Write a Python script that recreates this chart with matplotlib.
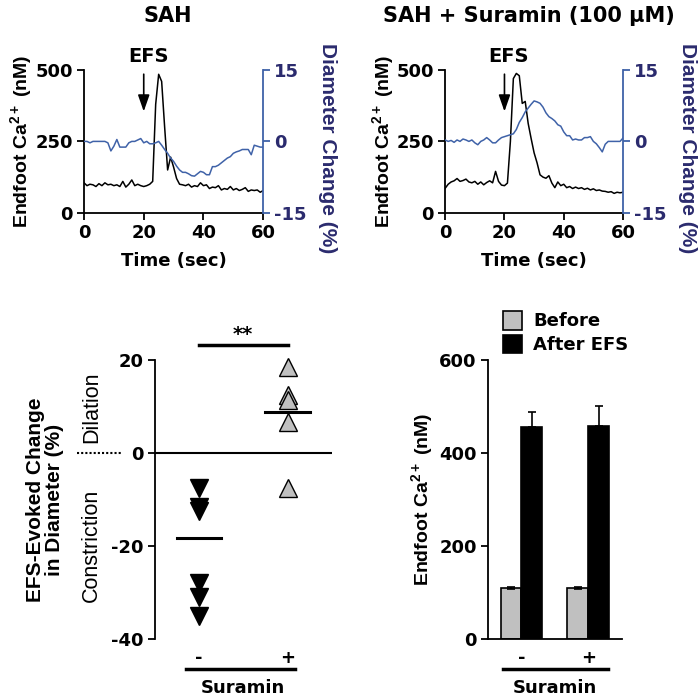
"""Endfoot Ca2+ / diameter traces and Suramin summary panels."""

import matplotlib

matplotlib.use("Agg")
import matplotlib.pyplot as plt  # noqa: E402

plt.rcParams["font.family"] = ["DejaVu Sans"]
plt.rcParams["font.weight"] = "bold"
plt.rcParams["axes.labelweight"] = "bold"
plt.rcParams["axes.unicode_minus"] = False
plt.rcParams["mathtext.default"] = "regular"

VFONT = ["Liberation Sans", "DejaVu Sans"]   # narrower face for rotated labels

# ---- data -------------------------------------------------------------
time_s = list(range(61))

sah_ca = [105, 95, 100, 98, 92, 102, 95, 105, 98, 100,
          95, 98, 92, 110, 90, 100, 115, 95, 100, 95,
          92, 95, 100, 110, 380, 485, 460, 300, 150, 195,
          160, 120, 100, 98, 95, 100, 90, 95, 92, 105,
          95, 98, 85, 90, 88, 95, 80, 85, 82, 92,
          80, 85, 78, 82, 88, 75, 80, 78, 80, 72, 78]
sah_diam = [0, 0, -0.3, 0, 0, 0, 0, 0, -0.3,
            -2.0, -1.0, 0.4, -1.2, -1.2, -1.2, -0.3, 0, 0, 0.3, 0.6,
            -0.3, 0, -0.5, -0.5, -0.3, 0, -0.8, -1.7, -2.5, -3.5,
            -4.2, -5.2, -6.0, -6.5, -6.5, -6.8, -7.2, -7.3, -6.8, -6.3,
            -6.5, -7.0, -7.0, -5.3, -5.3, -5.0, -4.5, -4.0, -3.5, -3.2,
            -2.5, -2.2, -2.0, -1.7, -1.7, -1.7, -2.8, -0.8, -1.0, -1.2, -1.2]

sur_ca = [86, 100, 108, 112, 120, 110, 113, 118, 108, 105,
          110, 100, 108, 98, 106, 112, 105, 145, 110, 97,
          95, 104, 250, 470, 488, 480, 383, 390, 313, 260,
          210, 175, 133, 125, 121, 130, 104, 88, 108, 95,
          100, 88, 92, 85, 90, 85, 88, 82, 86, 80,
          84, 78, 80, 76, 75, 72, 74, 68, 72, 70, 72]
sur_diam = [0.3, 0, 0.2, -0.2, 0.3, 0, 0.5, 0.3, 0, 0.3, -0.3,
            -0.7, 0, 0.3, 0.8, 0.3, -0.3, -0.3, 0.3, 0.8,
            1.0, 1.2, 1.4, 1.6, 2.5, 4.0, 5.0, 6.2, 7.0, 7.8,
            8.5, 8.3, 8.0, 7.2, 6.0, 5.2, 4.8, 4.3, 3.5, 3.2,
            2.0, 1.2, 1.2, 0.3, 0.5, 0.3, 0.3, 0.8, 0.8, 1.0,
            0, -0.5, -1.3, -2.2, -0.6, 0, 0, 0, 0, 0, 0.7]

efs_time = 20

diam_minus = [-7.5, -11.6, -12.5, -28.0, -31.0, -35.0]
diam_plus = [18.5, 12.5, 11.4, 6.7, -7.5]
diam_means = [-18.3, 8.7]

groups = ["-", "+"]
ca_before = [110, 110]
ca_before_err = [2, 2]
ca_after = [455, 458]
ca_after_err = [32, 42]

BLUE = "#3f62a8"
NAVY = "#2b2b6e"
GREY = "#c0c0c0"


def trace_panel(rect, ca, diam, title, title_x):
    ax = fig.add_axes(rect)
    ax.plot(time_s, ca, color="black", lw=1.1)
    ax.set_xlim(0, 60)
    ax.set_ylim(0, 500)
    ax.set_xticks([0, 20, 40, 60])
    ax.set_yticks([0, 250, 500])
    ax.spines["top"].set_visible(False)
    ax.spines["right"].set_visible(False)
    ax.spines["left"].set_linewidth(1.3)
    ax.spines["bottom"].set_linewidth(1.3)
    ax.tick_params(labelsize=13, width=1.3, length=5, pad=3)
    ax.set_xlabel("Time (sec)", fontsize=13, labelpad=7)
    ax.set_ylabel("Endfoot Ca$^{2+}$ (nM)", fontsize=14, va="center",
                  family=VFONT)
    ax.yaxis.set_label_coords(-0.35, 0.5)
    ax.annotate("", xy=(efs_time, 345), xytext=(efs_time, 495),
                arrowprops=dict(arrowstyle="-|>,head_width=0.35,head_length=1.0",
                                color="black", lw=1.2), annotation_clip=False)
    ax.text(efs_time + 1.5, 515, "EFS", ha="center", va="bottom", fontsize=14,
            clip_on=False)

    ax2 = ax.twinx()
    ax2.plot(time_s, diam, color=BLUE, lw=1.1)
    ax2.set_ylim(-15, 15)
    ax2.set_yticks([-15, 0, 15])
    for s in ["top", "left", "bottom"]:
        ax2.spines[s].set_visible(False)
    ax2.spines["right"].set_color(BLUE)
    ax2.spines["right"].set_linewidth(1.3)
    ax2.tick_params(labelsize=13, width=1.3, length=5, pad=3, colors=BLUE,
                    labelcolor=NAVY)
    ax2.set_ylabel("Diameter Change (%)", fontsize=15, color=NAVY,
                   rotation=270, va="center", family=VFONT)
    ax2.yaxis.set_label_coords(1.36, 0.45)
    fig.text(title_x, 0.977, title, ha="center", va="center", fontsize=15)


fig = plt.figure(figsize=(7, 7), dpi=100)

trace_panel([0.12, 0.696, 0.256, 0.204], sah_ca, sah_diam, "SAH", 0.239)
trace_panel([0.636, 0.696, 0.254, 0.204], sur_ca, sur_diam,
            "SAH + Suramin (100 \u00b5M)", 0.756)

# ---- bottom left: diameter change scatter ----------------------------
axs = fig.add_axes([0.221, 0.087, 0.253, 0.399])
axs.set_xlim(-0.5, 1.5)
axs.set_ylim(-40, 20)
axs.axhline(0, color="black", lw=1.5)
axs.plot([0] * len(diam_minus), diam_minus, linestyle="none", marker="v",
         ms=13, mfc="black", mec="black", clip_on=False)
axs.plot([1] * len(diam_plus), diam_plus, linestyle="none", marker="^",
         ms=13, mfc=GREY, mec="black", mew=1.0, clip_on=False)
for i, m in enumerate(diam_means):
    axs.plot([i - 0.25, i + 0.25], [m, m], color="black", lw=2.2, zorder=4)
axs.plot([0, 1], [23.2, 23.2], color="black", lw=2.5, clip_on=False)
axs.text(0.5, 23.5, "**", ha="center", va="bottom", fontsize=14)
axs.set_yticks([-40, -20, 0, 20])
axs.set_xticks([0, 1])
axs.set_xticklabels(groups)
for s in ["top", "right", "bottom"]:
    axs.spines[s].set_visible(False)
axs.spines["left"].set_linewidth(1.3)
axs.tick_params(axis="y", labelsize=13, width=1.3, length=5, pad=3)
axs.tick_params(axis="x", labelsize=13, length=0, pad=7)
axs.plot([-0.15, 1.08], [-46.5, -46.5], color="black", lw=2.5, clip_on=False)
axs.set_xlabel("Suramin", fontsize=13, labelpad=9)
axs.set_ylabel("EFS-Evoked Change\nin Diameter (%)", fontsize=15,
               linespacing=1.0, va="center", family=VFONT)
axs.yaxis.set_label_coords(-0.62, 0.5)
axs.text(-1.21, 9.7, "Dilation", rotation=90, ha="center", va="center",
         fontsize=15.5, fontweight="normal", family=VFONT, clip_on=False)
axs.text(-1.21, -19.8, "Constriction", rotation=90, ha="center", va="center",
         fontsize=15.5, fontweight="normal", family=VFONT, clip_on=False)
axs.plot([-1.38, -0.88], [0, 0], color="black", lw=1.5, linestyle=(0, (1, 1)),
         clip_on=False)

# ---- bottom right: Ca bars -------------------------------------------
axb = fig.add_axes([0.697, 0.087, 0.191, 0.399])
xs = range(len(groups))
bw = 0.31
axb.bar([x - bw / 2 for x in xs], ca_before, bw, yerr=ca_before_err,
        color=GREY, edgecolor="black", lw=1.2, label="Before",
        error_kw=dict(elinewidth=1.2, capsize=3, capthick=1.2))
axb.bar([x + bw / 2 for x in xs], ca_after, bw, yerr=[[0, 0], ca_after_err],
        color="black", edgecolor="black", lw=1.2, label="After EFS",
        error_kw=dict(elinewidth=1.2, capsize=3, capthick=1.2))
axb.set_xlim(-0.5, 1.5)
axb.set_ylim(0, 600)
axb.set_yticks([0, 200, 400, 600])
axb.set_xticks(list(xs))
axb.set_xticklabels(groups)
axb.spines["top"].set_visible(False)
axb.spines["right"].set_visible(False)
axb.spines["left"].set_linewidth(1.3)
axb.spines["bottom"].set_linewidth(1.3)
axb.tick_params(axis="y", labelsize=13, width=1.3, length=5, pad=3)
axb.tick_params(axis="x", labelsize=13, length=0, pad=7)
axb.plot([-0.28, 1.3], [-64.5, -64.5], color="black", lw=2.5, clip_on=False)
axb.set_xlabel("Suramin", fontsize=13, labelpad=9)
axb.set_ylabel("Endfoot Ca$^{2+}$ (nM)", fontsize=14, va="center",
               family=VFONT)
axb.yaxis.set_label_coords(-0.49, 0.5)
axb.legend(loc="lower left", bbox_to_anchor=(0.11, 1.02), frameon=False,
           fontsize=13, handlelength=1.1, handleheight=1.2, handletextpad=0.6,
           labelspacing=0.25, borderaxespad=0, borderpad=0)

fig.savefig("out.png", dpi=100)
plt.close(fig)
